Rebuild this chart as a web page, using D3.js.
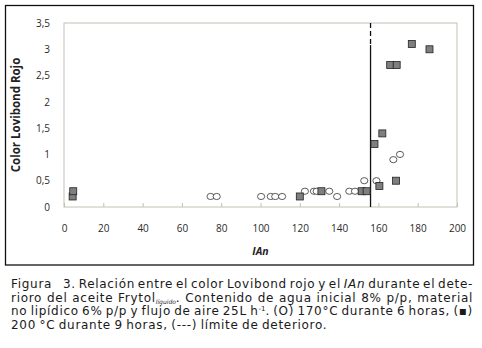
<!DOCTYPE html>
<html>
<head>
<meta charset="utf-8">
<script src="https://cdn.jsdelivr.net/npm/d3@7"></script>
<style>
  body { margin: 0; background: #fff; }
  svg { display: block; }
</style>
</head>
<body>
<div id="container"></div>
<script>
let w = 482;
let h = 348;

// 170 °C durante 6 horas (circulos)
let ian170 = [74.6, 77.7, 100.3, 105.2, 107.5, 111, 122.6, 127.2, 128.6, 135, 139, 145.2, 148.1, 152.8, 159, 167.6, 171];
let color170 = [0.2, 0.2, 0.2, 0.2, 0.2, 0.2, 0.3, 0.3, 0.3, 0.3, 0.2, 0.3, 0.3, 0.5, 0.5, 0.9, 1.0];

// 200 °C durante 9 horas (cuadrados)
let ian200 = [4.4, 4.7, 120, 131, 151.5, 154, 158, 160.5, 162, 166, 169.3, 169, 177, 186];
let color200 = [0.2, 0.3, 0.2, 0.3, 0.3, 0.3, 1.2, 0.4, 1.4, 2.7, 2.7, 0.5, 3.1, 3.0];

// limite de deterioro
let limitIAn = 156;
let limitDashTop = 3.5;
let limitDashBottom = 3.08;

let xTicks = [0, 20, 40, 60, 80, 100, 120, 140, 160, 180, 200];
let yTicks = [0, 0.5, 1, 1.5, 2, 2.5, 3, 3.5];

let viz = d3.select("#container")
  .append("svg")
    .attr("width", w)
    .attr("height", h)
    .style("background-color", "white");

// outer frame
viz.append("rect")
  .attr("x", 5.5).attr("y", 5.5)
  .attr("width", 468).attr("height", 259.5)
  .attr("fill", "none")
  .attr("stroke", "#111")
  .attr("stroke-width", 1.3);

let plotLeft = 64, plotRight = 457, plotTop = 23, plotBottom = 207;
let xScale = d3.scaleLinear().domain([0, 200]).range([plotLeft, plotRight]);
let yScale = d3.scaleLinear().domain([0, 3.5]).range([plotBottom, plotTop]);

let frameColor = "#c3c0b3";

// plot frame
viz.append("rect")
  .attr("x", plotLeft).attr("y", plotTop)
  .attr("width", plotRight - plotLeft).attr("height", plotBottom - plotTop)
  .attr("fill", "none")
  .attr("stroke", frameColor)
  .attr("stroke-width", 1);

let xAxis = d3.axisBottom(xScale)
  .tickValues(xTicks)
  .tickSize(-4)
  .tickPadding(18)
  .tickFormat(d3.format("d"));
let xAxisGroup = viz.append("g").attr("class", "xaxis")
  .attr("transform", "translate(0," + plotBottom + ")")
  .call(xAxis);
xAxisGroup.select(".domain").remove();
xAxisGroup.selectAll("line").attr("stroke", frameColor);
xAxisGroup.selectAll("text")
  .attr("font-family", "Open Sans")
  .attr("font-size", 10)
  .attr("fill", "#2a2a2a");

let yAxis = d3.axisLeft(yScale)
  .tickValues(yTicks)
  .tickSize(0)
  .tickPadding(14)
  .tickFormat(function(d){ return String(d).replace(".", ","); });
let yAxisGroup = viz.append("g").attr("class", "yaxis")
  .attr("transform", "translate(" + plotLeft + ",0)")
  .call(yAxis);
yAxisGroup.select(".domain").remove();
yAxisGroup.selectAll("text")
  .attr("font-family", "Open Sans")
  .attr("font-size", 10)
  .attr("fill", "#2a2a2a");

// axis titles
viz.append("text")
  .attr("transform", "translate(20," + ((plotTop + plotBottom) / 2) + ") rotate(-90)")
  .attr("text-anchor", "middle")
  .attr("font-family", "Open Sans")
  .attr("font-weight", "bold")
  .attr("font-size", 11.5)
  .attr("fill", "#222")
  .text("Color Lovibond Rojo");

viz.append("text")
  .attr("x", (plotLeft + plotRight) / 2)
  .attr("y", 255)
  .attr("text-anchor", "middle")
  .attr("font-family", "Open Sans")
  .attr("font-weight", "bold")
  .attr("font-style", "italic")
  .attr("font-size", 10.5)
  .attr("fill", "#222")
  .text("IAn");

// limit line
viz.append("line")
  .attr("x1", xScale(limitIAn)).attr("x2", xScale(limitIAn))
  .attr("y1", yScale(limitDashTop)).attr("y2", yScale(limitDashBottom))
  .attr("stroke", "#111")
  .attr("stroke-width", 1.3)
  .attr("stroke-dasharray", "5,3");
viz.append("line")
  .attr("x1", xScale(limitIAn)).attr("x2", xScale(limitIAn))
  .attr("y1", yScale(limitDashBottom)).attr("y2", yScale(0))
  .attr("stroke", "#111")
  .attr("stroke-width", 1.3);

// points
let circleData = ian170.map(function(d, i){ return {ian: d, c: color170[i]}; });
let squareData = ian200.map(function(d, i){ return {ian: d, c: color200[i]}; });

viz.selectAll(".c170").data(circleData).enter()
  .append("ellipse")
    .attr("class", "c170")
    .attr("cx", function(d){ return xScale(d.ian); })
    .attr("cy", function(d){ return yScale(d.c); })
    .attr("rx", 3.6)
    .attr("ry", 3.1)
    .attr("fill", "white")
    .attr("stroke", "#333")
    .attr("stroke-width", 0.8);

let s = 7;
viz.selectAll(".s200").data(squareData).enter()
  .append("rect")
    .attr("class", "s200")
    .attr("x", function(d){ return xScale(d.ian) - s / 2; })
    .attr("y", function(d){ return yScale(d.c) - s / 2; })
    .attr("width", s)
    .attr("height", s)
    .attr("fill", "#7f7f7f")
    .attr("stroke", "#222")
    .attr("stroke-width", 0.8);

// caption, justified word by word
let capLines = [
  [[["Figura"]], [["3."]], [["Relación"]], [["entre"]], [["el"]], [["color"]], [["Lovibond"]], [["rojo"]], [["y"]], [["el"]], [["IAn", "i"]], [["durante"]], [["el"]], [["dete-"]]],
  [[["rioro"]], [["del"]], [["aceite"]], [["Frytol"], ["líquido", "sub"], ["."]], [["Contenido"]], [["de"]], [["agua"]], [["inicial"]], [["8%"]], [["p/p,"]], [["material"]]],
  [[["no"]], [["lipídico"]], [["6%"]], [["p/p"]], [["y"]], [["flujo"]], [["de"]], [["aire"]], [["25L"]], [["h"], ["-1", "sup"], ["."]], [["(O)"]], [["170°C"]], [["durante"]], [["6"]], [["horas,"]], [["(▪)"]]],
  [[["200"]], [["°C"]], [["durante"]], [["9"]], [["horas,"]], [["(---)"]], [["límite"]], [["de"]], [["deterioro."]]]
];
let capLeft = 11, capRight = 473;
let capBase = [288, 301.5, 315, 328.5];
let capSize = 12;
let capSpacing = 0.7;

capLines.forEach(function(words, li){
  let g = viz.append("g");
  let nodes = words.map(function(parts){
    let t = g.append("text")
      .attr("font-family", "DejaVu Sans")
      .attr("font-size", capSize)
      .attr("letter-spacing", capSpacing)
      .attr("fill", "#1a1a1a")
      .attr("y", capBase[li]);
    parts.forEach(function(p, k){
      let ts = t.append("tspan").text(p[0]);
      if (p[1] == "i") ts.attr("font-style", "italic");
      if (p[1] == "sub") ts.attr("font-size", 6).attr("letter-spacing", 0).attr("font-style", "italic").attr("dy", 2);
      if (p[1] == "sup") ts.attr("font-size", 7).attr("letter-spacing", 0).attr("dy", -4);
      if (k > 0 && !p[1] && parts[k - 1][1] == "sub") ts.attr("dy", -2);
      if (k > 0 && !p[1] && parts[k - 1][1] == "sup") ts.attr("dy", 4);
    });
    return t;
  });
  let widths = nodes.map(function(t){ return t.node().getComputedTextLength(); });
  let total = d3.sum(widths);
  // first line has a wider gap after "Figura"
  let extra = li == 0 ? 8 : 0;
  let gap;
  if (li < capLines.length - 1) {
    gap = (capRight - capLeft - total - extra) / (nodes.length - 1);
  } else {
    gap = 3.5;
  }
  let x = capLeft;
  nodes.forEach(function(t, i){
    t.attr("x", x);
    x += widths[i] + gap + (i == 0 ? extra : 0);
  });
});
</script>
</body>
</html>
